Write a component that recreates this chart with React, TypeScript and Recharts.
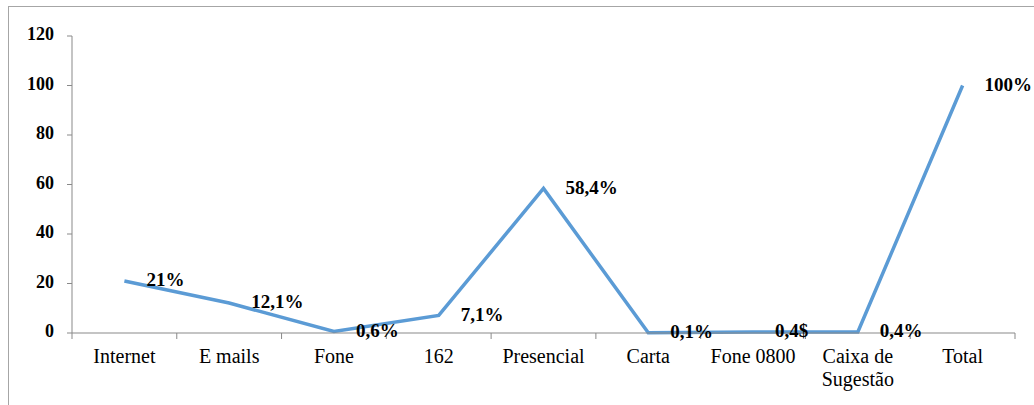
import { LineChart, Line, XAxis, YAxis, LabelList } from 'recharts';

const categories = [
  'Internet',
  'E mails',
  'Fone',
  '162',
  'Presencial',
  'Carta',
  'Fone 0800',
  'Caixa de Sugestão',
  'Total',
];
const values = [21, 12.1, 0.6, 7.1, 58.4, 0.1, 0.4, 0.4, 100];
const valueLabels = ['21%', '12,1%', '0,6%', '7,1%', '58,4%', '0,1%', '0,4$', '0,4%', '100%'];
const yTicks = [0, 20, 40, 60, 80, 100, 120];

const W = 1034;
const H = 405;
const margin = { top: 36, right: 19, bottom: 12, left: 22 };
const yAxisWidth = 50;
const plotWidth = W - margin.left - margin.right - yAxisWidth;
const band = plotWidth / categories.length;
const font = "'Liberation Serif', 'DejaVu Serif', serif";

const data = categories.map((name, i) => ({
  pos: i + 0.5,
  name,
  value: values[i],
  label: valueLabels[i],
}));

const boundaries = categories.map((_, i) => i).concat(categories.length);

function CategoryTick(props: any) {
  const { x, y, payload } = props;
  const idx = payload.value as number;
  if (idx >= categories.length) return null;
  const name = categories[idx];
  const lines = name === 'Caixa de Sugestão' ? ['Caixa de', 'Sugestão'] : [name];
  return (
    <text
      x={x + band / 2}
      y={y + 22}
      textAnchor="middle"
      fill="#000"
      style={{ fontFamily: font, fontSize: 20 }}
    >
      {lines.map((l, i) => (
        <tspan key={i} x={x + band / 2} dy={i === 0 ? 0 : 23}>
          {l}
        </tspan>
      ))}
    </text>
  );
}

function YTick(props: any) {
  const { x, y, payload } = props;
  return (
    <text
      x={x}
      y={y}
      textAnchor="end"
      dominantBaseline="middle"
      fill="#000"
      style={{ fontFamily: font, fontSize: 18, fontWeight: 'bold' }}
    >
      {payload.value}
    </text>
  );
}

function ValueLabel(props: any) {
  const { x, y, value } = props;
  return (
    <text
      x={x + 22}
      y={y + 1}
      dominantBaseline="middle"
      fill="#000"
      style={{ fontFamily: font, fontSize: 19, fontWeight: 'bold' }}
    >
      {value}
    </text>
  );
}

export default function App() {
  return (
    <div style={{ position: 'fixed', left: 0, top: 0, width: W, height: H, background: '#fff' }}>
      <div
        style={{
          position: 'absolute',
          left: 8,
          top: 6,
          width: W,
          height: H,
          border: '1px solid #a6a6a6',
        }}
      />
      <div style={{ position: 'absolute', left: 0, top: 0 }}>
        <LineChart width={W} height={H} data={data} margin={margin}>
          <XAxis
            dataKey="pos"
            type="number"
            domain={[0, categories.length]}
            ticks={boundaries}
            interval={0}
            height={60}
            tickSize={6}
            tickMargin={2}
            stroke="#898989"
            tick={<CategoryTick />}
          />
          <YAxis
            domain={[0, 120]}
            ticks={yTicks}
            width={yAxisWidth}
            tickSize={5}
            tickMargin={13}
            stroke="#898989"
            tick={<YTick />}
          />
          <Line
            type="linear"
            dataKey="value"
            stroke="#5b9bd5"
            strokeWidth={3.5}
            dot={false}
            isAnimationActive={false}
          >
            <LabelList dataKey="label" content={<ValueLabel />} />
          </Line>
        </LineChart>
      </div>
    </div>
  );
}
